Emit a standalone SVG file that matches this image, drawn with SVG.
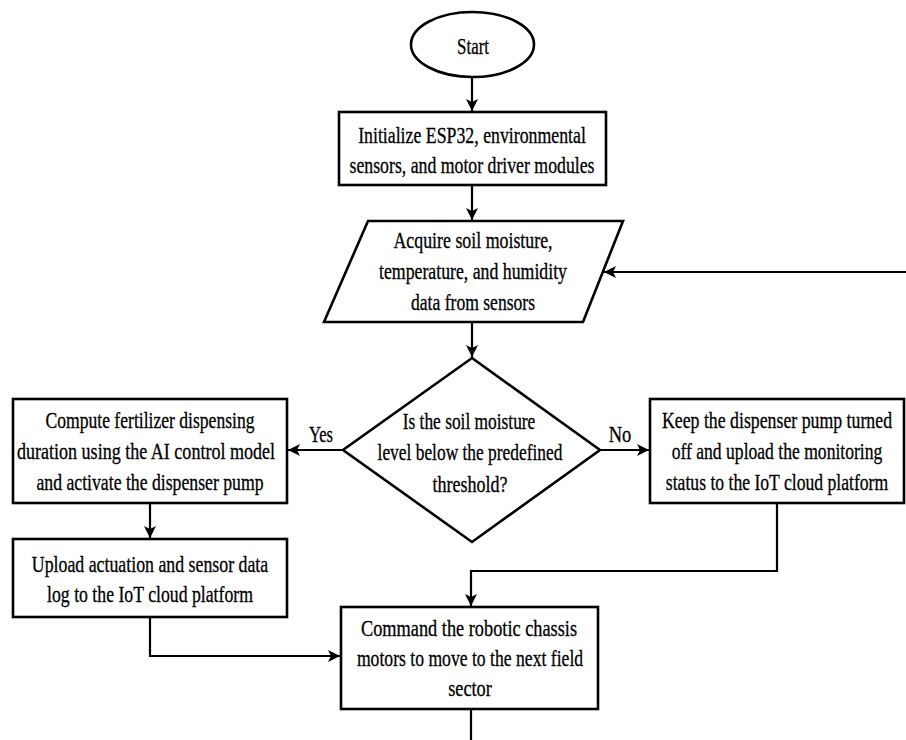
<svg xmlns="http://www.w3.org/2000/svg" width="906" height="740" viewBox="0 0 906 740">
<defs>
<marker id="ah" markerUnits="userSpaceOnUse" markerWidth="14" markerHeight="12" refX="12" refY="6" orient="auto">
<path d="M0,0 L12,6 L0,12 L3,6 z" fill="#000"/>
</marker>
<style>
.s{fill:#fff;stroke:#000;stroke-width:2.6}
.t{font-family:"Liberation Serif","Times New Roman",serif;font-size:23px;fill:#000;stroke:#000;stroke-width:0.3;text-anchor:middle}
.c{fill:none;stroke:#000;stroke-width:2.2}
</style>
</defs>
<rect width="906" height="740" fill="#fff"/>
<g id="start">
<ellipse class="s" cx="472.5" cy="44.5" rx="61.5" ry="32.5"/>
<text class="t" transform="translate(473,54) scale(0.78,1)" textLength="41" lengthAdjust="spacingAndGlyphs">Start</text>
</g>
<g id="init">
<rect class="s" x="339" y="112" width="267" height="73"/>
<text class="t" transform="translate(472,143) scale(0.78,1)" textLength="292" lengthAdjust="spacingAndGlyphs">Initialize ESP32, environmental</text>
<text class="t" transform="translate(472,173) scale(0.78,1)" textLength="314" lengthAdjust="spacingAndGlyphs">sensors, and motor driver modules</text>
</g>
<g id="acquire">
<polygon class="s" points="368,221 623,221 583,322 324,322"/>
<text class="t" transform="translate(473,248) scale(0.78,1)" textLength="204" lengthAdjust="spacingAndGlyphs">Acquire soil moisture,</text>
<text class="t" transform="translate(473,279) scale(0.78,1)" textLength="241" lengthAdjust="spacingAndGlyphs">temperature, and humidity</text>
<text class="t" transform="translate(473,310) scale(0.78,1)" textLength="159" lengthAdjust="spacingAndGlyphs">data from sensors</text>
</g>
<g id="decision">
<polygon class="s" points="472,358 600,450 472,542 343,450"/>
<text class="t" transform="translate(469,429) scale(0.78,1)" textLength="170" lengthAdjust="spacingAndGlyphs">Is the soil moisture</text>
<text class="t" transform="translate(470,460) scale(0.78,1)" textLength="237" lengthAdjust="spacingAndGlyphs">level below the predefined</text>
<text class="t" transform="translate(470,492) scale(0.78,1)" textLength="96" lengthAdjust="spacingAndGlyphs">threshold?</text>
</g>
<g id="compute">
<rect class="s" x="13" y="399" width="274" height="104"/>
<text class="t" transform="translate(150,428) scale(0.78,1)" textLength="268" lengthAdjust="spacingAndGlyphs">Compute fertilizer dispensing</text>
<text class="t" transform="translate(146,459) scale(0.78,1)" textLength="331" lengthAdjust="spacingAndGlyphs">duration  using the AI control model</text>
<text class="t" transform="translate(150,490) scale(0.78,1)" textLength="291" lengthAdjust="spacingAndGlyphs">and activate the dispenser pump</text>
</g>
<g id="keep">
<rect class="s" x="650" y="399" width="254" height="104"/>
<text class="t" transform="translate(777,428) scale(0.78,1)" textLength="295" lengthAdjust="spacingAndGlyphs">Keep the dispenser pump turned</text>
<text class="t" transform="translate(777,459) scale(0.78,1)" textLength="270" lengthAdjust="spacingAndGlyphs">off and upload the monitoring</text>
<text class="t" transform="translate(777,490) scale(0.78,1)" textLength="285" lengthAdjust="spacingAndGlyphs">status to the IoT cloud platform</text>
</g>
<g id="upload">
<rect class="s" x="13" y="539" width="274" height="78"/>
<text class="t" transform="translate(150,572) scale(0.78,1)" textLength="303" lengthAdjust="spacingAndGlyphs">Upload actuation and sensor data</text>
<text class="t" transform="translate(150,602) scale(0.78,1)" textLength="264" lengthAdjust="spacingAndGlyphs">log to the IoT cloud platform</text>
</g>
<g id="command">
<rect class="s" x="341" y="607" width="257" height="102"/>
<text class="t" transform="translate(469,636) scale(0.78,1)" textLength="277" lengthAdjust="spacingAndGlyphs">Command the robotic chassis</text>
<text class="t" transform="translate(470,666) scale(0.78,1)" textLength="290" lengthAdjust="spacingAndGlyphs">motors to move to the next field</text>
<text class="t" transform="translate(470,696) scale(0.78,1)" textLength="56" lengthAdjust="spacingAndGlyphs">sector</text>
</g>
<g id="connectors">
<path class="c" d="M472,77 L472,111" marker-end="url(#ah)"/>
<path class="c" d="M472,185 L472,220" marker-end="url(#ah)"/>
<path class="c" d="M472,322 L472,357" marker-end="url(#ah)"/>
<path class="c" d="M906,272 L604,272" marker-end="url(#ah)"/>
<path class="c" d="M343,450 L288,450" marker-end="url(#ah)"/>
<path class="c" d="M600,450 L649,450" marker-end="url(#ah)"/>
<path class="c" d="M150,503 L150,538" marker-end="url(#ah)"/>
<path class="c" d="M150,617 L150,656 L340,656" marker-end="url(#ah)"/>
<path class="c" d="M777,503 L777,571 L471,571 L471,606" marker-end="url(#ah)"/>
<path class="c" d="M471,709 L471,740"/>
<text class="t" transform="translate(321,442) scale(0.78,1)" textLength="31" lengthAdjust="spacingAndGlyphs">Yes</text>
<text class="t" transform="translate(620,442) scale(0.78,1)" textLength="29" lengthAdjust="spacingAndGlyphs">No</text>
</g>
</svg>
